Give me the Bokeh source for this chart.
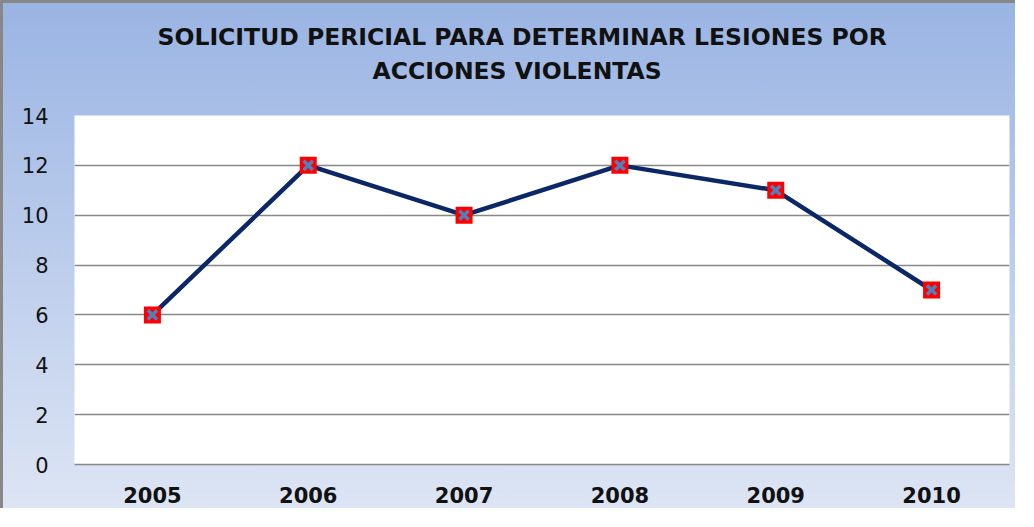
from bokeh.plotting import figure
from bokeh.models import Title, FixedTicker, Range1d
from bokeh.embed import file_html
from bokeh.resources import INLINE

years = ["2005", "2006", "2007", "2008", "2009", "2010"]
values = [6, 12, 10, 12, 11, 7]
y_ticks = [0, 2, 4, 6, 8, 10, 12, 14]
title_lines = ["SOLICITUD PERICIAL PARA DETERMINAR LESIONES POR", "ACCIONES VIOLENTAS"]

p = figure(
    x_range=years,
    y_range=Range1d(0, 14),
    width=1015,
    height=508,
    output_backend="svg",
    toolbar_location=None,
    min_border_left=71,
    min_border_right=9,
    min_border_top=112,
    min_border_bottom=47,
    border_fill_alpha=0,
    background_fill_color="white",
    outline_line_color=None,
    styles={
        "background": "linear-gradient(to bottom, #9ab4e3 0%, #dde5f4 100%)",
        "border-left": "3px solid #878787",
        "border-top": "3px solid #878787",
    },
)

p.line(years, values, line_color="#0c2766", line_width=4.5)
p.scatter(years, values, marker="square", size=17, fill_color="#ff0000", line_color=None)
p.scatter(years, values, marker="x", size=13, line_color="#4f81bd", line_width=3.5)

# axes
p.yaxis.ticker = FixedTicker(ticks=y_ticks)
p.yaxis.axis_line_color = None
p.yaxis.major_tick_line_color = None
p.yaxis.minor_tick_line_color = None
p.yaxis.major_label_text_font = "DejaVu Sans"
p.yaxis.major_label_text_font_size = "21px"
p.yaxis.major_label_text_color = "#111111"
p.yaxis.major_label_standoff = 20

p.xaxis.axis_line_color = "#888888"
p.xaxis.axis_line_width = 1.5
p.xaxis.major_tick_line_color = None
p.xaxis.minor_tick_line_color = None
p.xaxis.major_label_text_font = "DejaVu Sans"
p.xaxis.major_label_text_font_style = "bold"
p.xaxis.major_label_text_font_size = "21px"
p.xaxis.major_label_text_color = "#111111"
p.xaxis.major_label_standoff = 16

p.xgrid.grid_line_color = None
p.ygrid.grid_line_color = "#888888"
p.ygrid.grid_line_width = 1.5

# title: spacer panel next to the frame, then the two title lines stacked above it
p.add_layout(Title(text=" ", text_font_size="1px", standoff=24), "above")
p.add_layout(Title(
    text=title_lines[1], align="left", offset=298,
    text_font="DejaVu Sans", text_font_style="bold", text_font_size="23.5px",
    text_color="#111111", standoff=8,
), "above")
p.add_layout(Title(
    text=title_lines[0], align="left", offset=83,
    text_font="DejaVu Sans", text_font_style="bold", text_font_size="23.5px",
    text_color="#111111", standoff=0,
), "above")

open("out.html", "w").write(file_html(p, INLINE))
